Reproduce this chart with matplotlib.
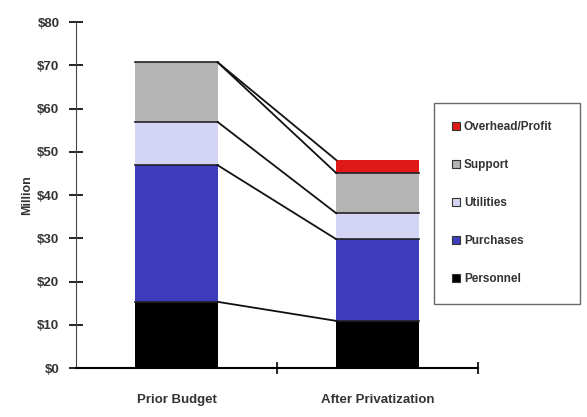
import matplotlib
matplotlib.use("Agg")
import matplotlib.pyplot as plt
import numpy as np

categories = ["Prior Budget", "After Privatization"]
components = ["Personnel", "Purchases", "Utilities", "Support", "Overhead/Profit"]
personnel = [15.3, 10.9]
purchases = [31.6, 18.9]
utilities = [10.0, 6.0]
support = [13.8, 9.3]
overhead = [0.0, 3.0]
colors = ["#000000", "#3d3dbb", "#d4d4f4", "#b4b4b4", "#e01818"]
y_ticks = [0, 10, 20, 30, 40, 50, 60, 70, 80]

plt.rcParams["font.family"] = ["Liberation Sans", "DejaVu Sans"]

fig = plt.figure(figsize=(5.87, 4.17), dpi=100)
ax = fig.add_axes([0.1295, 0.1175, 0.6845, 0.8295])

series = [personnel, purchases, utilities, support, overhead]
x = np.arange(len(categories))
w = 0.41
bottom = np.zeros(len(categories))
tops = []
handles = []
for name, vals, c in zip(components, series, colors):
    vals = np.array(vals)
    h = ax.bar(x, vals, w, bottom=bottom, color=c, edgecolor="none", label=name, zorder=2)
    handles.append(h)
    bottom = bottom + vals
    tops.append(bottom.copy())

# thin dark divider at each segment top
for t in tops[:-1]:
    for i in range(len(categories)):
        ax.plot([x[i] - w / 2, x[i] + w / 2], [t[i], t[i]], color="#222222", lw=1.2, zorder=3)

# series lines linking the two stacks
for t in tops:
    ax.plot([x[0] + w / 2, x[1] - w / 2], [t[0], t[1]], color="#111111", lw=1.3, zorder=3)

ax.set_xlim(-0.5, 1.5)
ax.set_ylim(0, 80)
ax.set_yticks(y_ticks)
ax.set_yticklabels([f"${v}" for v in y_ticks], fontsize=9.5, fontweight="bold", color="#333333")
ax.set_xticks([0.5, 1.5])
ax.set_xticklabels(["", ""])
ax.set_xticks(x, minor=True)
ax.set_xticklabels(categories, minor=True, fontsize=9.5, fontweight="bold", color="#333333")
ax.tick_params(axis="x", which="minor", length=0, pad=19)
ax.tick_params(axis="x", which="major", direction="inout", length=8, width=1.2)
ax.tick_params(axis="y", direction="inout", length=10, width=1.2, pad=7)
ax.set_ylabel("Million", fontsize=9, fontweight="bold", color="#333333", labelpad=3)
ax.spines["top"].set_visible(False)
ax.spines["right"].set_visible(False)
ax.spines["left"].set_color("#444444")
ax.spines["bottom"].set_linewidth(1.5)

leg = ax.legend(handles[::-1], components[::-1], loc="upper left",
                bbox_to_anchor=(0.8905, 0.2, 0.363, 0.566), mode="expand",
                frameon=True, fancybox=False,
                fontsize=8.5, handlelength=0.7, handleheight=0.7, handletextpad=0.3,
                labelspacing=2.2, borderpad=1.55, borderaxespad=0)
leg.get_frame().set_edgecolor("#444444")
leg.get_frame().set_linewidth(1.0)
for t in leg.get_texts():
    t.set_fontweight("bold")
    t.set_color("#333333")
for p in leg.legend_handles:
    p.set_edgecolor("#333333")
    p.set_linewidth(0.8)

fig.savefig("out.png", dpi=100)
